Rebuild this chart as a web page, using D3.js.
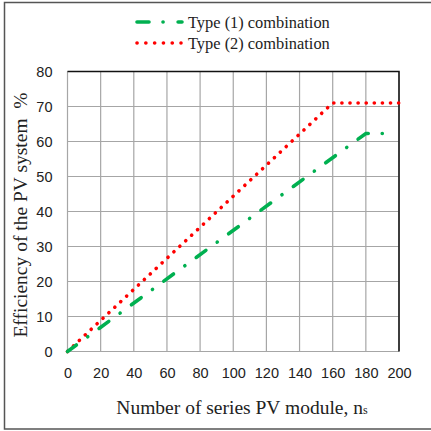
<!DOCTYPE html>
<html>
<head>
<meta charset="utf-8">
<script src="https://cdn.jsdelivr.net/npm/d3@7"></script>
<style>
  body { margin: 0; background: #fff; }
  svg { display: block; }
  .serif { font-family: "Liberation Serif", "Times New Roman", Times, "DejaVu Serif", serif; }
</style>
</head>
<body>
<svg width="431" height="431"></svg>
<script>
// values
var type1X = [0, 180, 190];
var type1Y = [0, 62.3, 62.3];
var type2X = [0, 160, 200];
var type2Y = [0, 71, 71];
var xTicks = [0, 20, 40, 60, 80, 100, 120, 140, 160, 180, 200];
var yTicks = [0, 10, 20, 30, 40, 50, 60, 70, 80];
var seriesNames = ["Type (1) combination", "Type (2) combination"];

var margin = {top: 71.5, right: 32, bottom: 79.5, left: 67.5},
    width = 431 - margin.left - margin.right,
    height = 431 - margin.top - margin.bottom;

var svg = d3.select("svg");

// outer frame
svg.append("rect")
  .attr("x", 4.5).attr("y", 2.5)
  .attr("width", 440).attr("height", 426.5)
  .attr("fill", "none").attr("stroke", "#555").attr("stroke-width", 1.5);

var xScale = d3.scaleLinear().domain([0, 200]).range([0, width]);
var yScale = d3.scaleLinear().domain([0, 80]).range([height, 0]);

var g = svg.append("g").attr("transform", "translate(" + margin.left + "," + margin.top + ")");

// grid
g.append("g").selectAll("line").data(xTicks).enter().append("line")
  .attr("x1", d => xScale(d)).attr("x2", d => xScale(d))
  .attr("y1", 0).attr("y2", height)
  .attr("stroke", "#a6a6a6").attr("stroke-width", 1.2);
g.append("g").selectAll("line").data(yTicks).enter().append("line")
  .attr("y1", d => yScale(d)).attr("y2", d => yScale(d))
  .attr("x1", 0).attr("x2", width)
  .attr("stroke", "#a6a6a6").attr("stroke-width", 1.2);

// top and right frame
g.append("path")
  .attr("d", "M0,0H" + width + "V" + height)
  .attr("fill", "none").attr("stroke", "#111").attr("stroke-width", 1.5);

// axes
var xAxis = d3.axisBottom(xScale).tickValues(xTicks).tickSize(0).tickPadding(16);
var yAxis = d3.axisLeft(yScale).tickValues(yTicks).tickSize(0).tickPadding(15);

g.append("g").attr("transform", "translate(0," + height + ")").call(xAxis)
  .call(a => a.select(".domain").remove())
  .selectAll("text").style("font-family", "Liberation Sans").style("font-size", "14.5px").attr("fill", "#222");
g.append("g").call(yAxis)
  .call(a => a.select(".domain").remove())
  .selectAll("text").style("font-family", "Liberation Sans").style("font-size", "14.5px").attr("fill", "#222");

// lines
var line = d3.line().x(d => xScale(d[0])).y(d => yScale(d[1]));

g.append("path")
  .datum(d3.zip(type2X, type2Y))
  .attr("d", line)
  .attr("fill", "none").attr("stroke", "#ff0000").attr("stroke-width", 3.6)
  .attr("stroke-linecap", "round").attr("stroke-dasharray", "0.1,8");

g.append("path")
  .datum(d3.zip(type1X, type1Y))
  .attr("d", line)
  .attr("fill", "none").attr("stroke", "#00b050").attr("stroke-width", 3.6)
  .attr("stroke-linecap", "round").attr("stroke-dasharray", "12,14,0.1,14")
  .attr("stroke-dashoffset", 1);

// legend
var legend = svg.append("g");
legend.append("line")
  .attr("x1", 137).attr("x2", 182).attr("y1", 22).attr("y2", 22)
  .attr("stroke", "#00b050").attr("stroke-width", 3.6).attr("stroke-linecap", "round")
  .attr("stroke-dasharray", "12,14,0.1,15");
legend.append("line")
  .attr("x1", 137).attr("x2", 181).attr("y1", 43).attr("y2", 43)
  .attr("stroke", "#ff0000").attr("stroke-width", 3.6).attr("stroke-linecap", "round")
  .attr("stroke-dasharray", "0.1,8.7");
legend.selectAll("text").data(seriesNames).enter().append("text")
  .attr("class", "serif")
  .attr("x", 188).attr("y", (d, i) => 27.5 + i * 21)
  .style("font-size", "16.4px").attr("fill", "#222")
  .text(d => d);

// axis titles
var xTitle = svg.append("text")
  .attr("class", "serif")
  .attr("x", 242).attr("y", 414).attr("text-anchor", "middle")
  .style("font-size", "19.5px").attr("fill", "#222");
xTitle.append("tspan").text("Number of series PV module, n");
xTitle.append("tspan").attr("font-size", "12px").text("s");

svg.append("text")
  .attr("class", "serif")
  .attr("transform", "translate(27,215) rotate(-90)")
  .attr("text-anchor", "middle")
  .style("font-size", "19.5px").attr("fill", "#222")
  .style("white-space", "pre")
  .text("Efficiency of the PV system  %");
</script>
</body>
</html>
